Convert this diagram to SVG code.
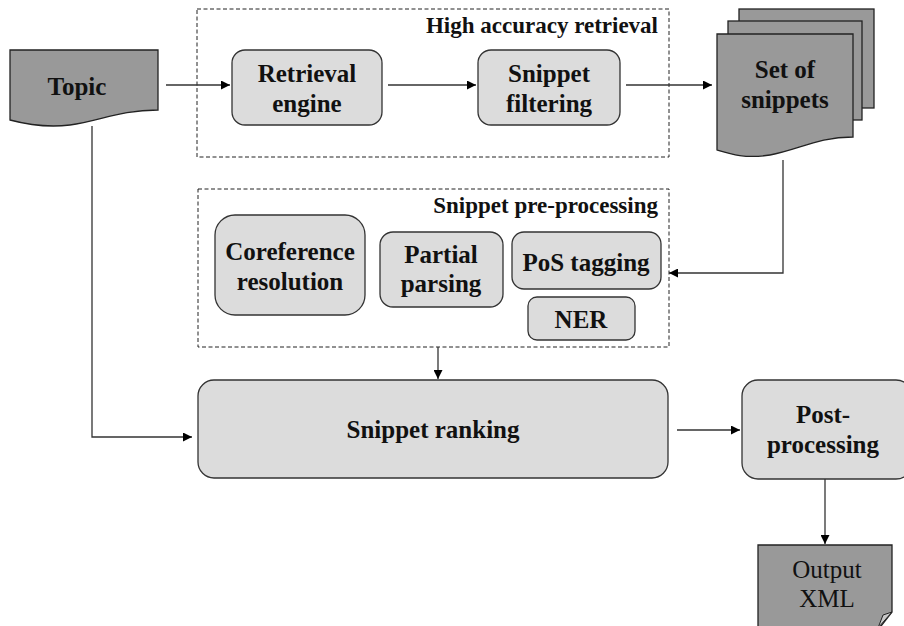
<svg xmlns="http://www.w3.org/2000/svg" width="904" height="626" viewBox="0 0 904 626">
<defs>
<marker id="arr" viewBox="0 0 10 10" refX="10" refY="5" markerWidth="9" markerHeight="9" markerUnits="userSpaceOnUse" orient="auto">
<path d="M0,0 L10,5 L0,10 Z" fill="#000"/>
</marker>
<style>
.box{fill:#dcdcdc;stroke:#333;stroke-width:1.3}
.doc{fill:#999;stroke:#222;stroke-width:1.3}
.grp{fill:none;stroke:#222;stroke-width:1;stroke-dasharray:4,2.5}
.t{font-family:"Liberation Serif","Times New Roman",serif;font-weight:bold;font-size:25px;fill:#111;text-anchor:middle}
.lbl{font-family:"Liberation Serif","Times New Roman",serif;font-weight:bold;font-size:23px;fill:#111;text-anchor:end}
.reg{font-weight:normal;font-size:25px}
.c{fill:none;stroke:#333;stroke-width:1.3;marker-end:url(#arr)}
</style>
</defs>
<rect width="904" height="626" fill="#fff"/>

<g id="grp-high-accuracy">
<rect class="grp" x="197" y="9" width="472" height="148"/>
<text class="lbl" x="658" y="33">High accuracy retrieval</text>
</g>
<g id="grp-preprocessing">
<rect class="grp" x="198" y="189" width="471" height="158"/>
<text class="lbl" x="658" y="213">Snippet pre-processing</text>
</g>

<g id="topic">
<path class="doc" d="M10,50 H158 V110 C120,110 100,121 70,125 C45,128 25,124 10,120 Z"/>
<text class="t" x="77" y="95">Topic</text>
</g>

<g id="retrieval-engine">
<rect class="box" x="232" y="50" width="150" height="75" rx="13"/>
<text class="t" x="307" y="82">Retrieval</text>
<text class="t" x="307" y="112">engine</text>
</g>

<g id="snippet-filtering">
<rect class="box" x="478" y="50" width="142" height="75" rx="13"/>
<text class="t" x="549" y="82">Snippet</text>
<text class="t" x="549" y="112">filtering</text>
</g>

<g id="set-of-snippets">
<rect class="doc" x="739" y="9" width="135" height="99"/>
<rect class="doc" x="728" y="21" width="134" height="99"/>
<path class="doc" d="M717,34 H853 V137 C818,137 798,150 770,155 C745,159 730,154 717,150 Z"/>
<text class="t" x="785" y="78">Set of</text>
<text class="t" x="785" y="108">snippets</text>
</g>

<g id="coreference-resolution">
<rect class="box" x="215" y="215" width="150" height="100" rx="20"/>
<text class="t" x="290" y="260">Coreference</text>
<text class="t" x="290" y="290">resolution</text>
</g>

<g id="partial-parsing">
<rect class="box" x="380" y="232" width="123" height="75" rx="13"/>
<text class="t" x="441" y="263">Partial</text>
<text class="t" x="441" y="292">parsing</text>
</g>

<g id="pos-tagging">
<rect class="box" x="512" y="232" width="149" height="57" rx="12"/>
<text class="t" x="586" y="271">PoS tagging</text>
</g>

<g id="ner">
<rect class="box" x="528" y="297" width="107" height="43" rx="9"/>
<text class="t" x="581" y="328">NER</text>
</g>

<g id="snippet-ranking">
<rect class="box" x="198" y="380" width="470" height="98" rx="16"/>
<text class="t" x="433" y="438">Snippet ranking</text>
</g>

<g id="post-processing">
<rect class="box" x="742" y="380" width="170" height="99" rx="16"/>
<text class="t" x="823" y="423">Post-</text>
<text class="t" x="823" y="453">processing</text>
</g>

<g id="output-xml">
<path class="doc" d="M758,545 H892 V612 L878,630 H758 Z"/>
<path d="M878,628 L883,615 L892,612 Z" fill="#c8c8c8" stroke="#222" stroke-width="1"/>
<text class="t reg" x="827" y="578">Output</text>
<text class="t reg" x="827" y="607">XML</text>
</g>

<g id="connectors">
<path class="c" d="M166,85 H230"/>
<path class="c" d="M388,85 H476"/>
<path class="c" d="M626,85 H712"/>
<path class="c" d="M783,160 V273 H669"/>
<path class="c" d="M438,347 V379"/>
<path class="c" d="M92,126 V437 H192"/>
<path class="c" d="M677,430 H740"/>
<path class="c" d="M825,479 V544"/>
</g>
</svg>
